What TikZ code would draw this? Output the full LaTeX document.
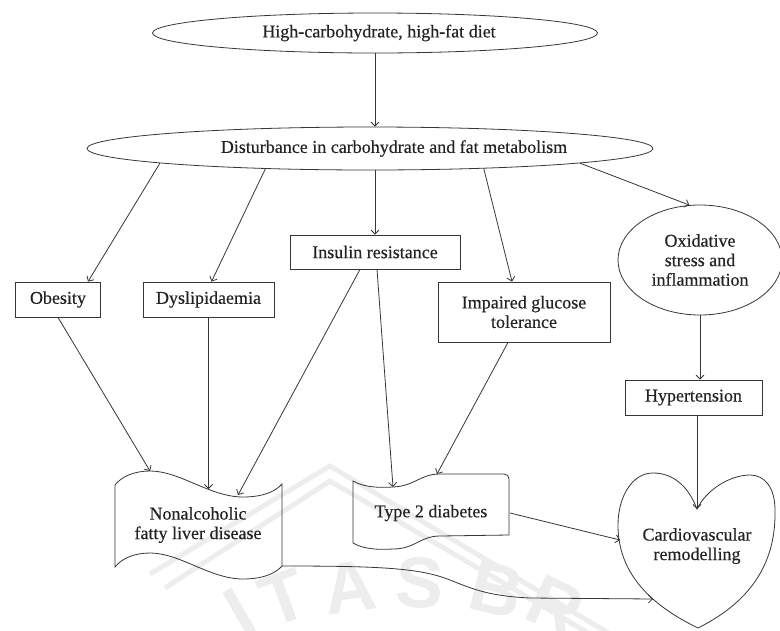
\documentclass[tikz,border=0pt]{standalone}
\usepackage{fontspec}
\setmainfont{Liberation Serif}[FakeBold=0.35]
\setsansfont{Liberation Sans}
\usetikzlibrary{shapes.geometric,arrows.meta}
\definecolor{inkline}{HTML}{363636}
\definecolor{inktext}{HTML}{222222}
\definecolor{wmark}{HTML}{EDEDED}
\begin{document}
\begin{tikzpicture}[x=1pt,y=-1pt,
  every node/.style={font=\fontsize{18}{19.5}\selectfont, text=inktext},
  ln/.style={draw=inkline, line width=0.8pt},
  box/.style={ln, rectangle, minimum height=35pt, inner sep=2pt},
  ell/.style={ln, ellipse, inner sep=0pt},
  arr/.style={draw=inkline, line width=0.8pt, -{Straight Barb[length=4pt,width=8pt]}},
  wm/.style={text=wmark, font=\sffamily\bfseries\fontsize{72}{72}\selectfont, inner sep=0pt}
]
\useasboundingbox (0,0) rectangle (780,630);

% faint background emblem
\draw[wmark, line width=5pt, line join=miter] (150,574) -- (330,466) -- (610,634);
\draw[wmark, line width=5pt, line join=miter] (165,588) -- (330,481) -- (590,634);
\node[wm, rotate=30]  (wmI) at (240,612) {I};
\node[wm, rotate=20]  (wmT) at (284,598) {T};
\node[wm, rotate=8]   (wmA) at (350,587) {A};
\node[wm, rotate=-3]  (wmS) at (420,583) {S};
\node[wm, rotate=-14] (wmB) at (497,590) {B};
\node[wm, rotate=-25] (wmR) at (556,606) {R};

% top-level causes
\node[ell, minimum width=445pt, minimum height=40pt] (diet) at (375,33) {};
\node (dietText) at (379,33) {High-carbohydrate, high-fat diet};
\node[ell, minimum width=566pt, minimum height=43pt] (dist) at (370,148.5) {};
\node (distText) at (394,148.5) {Disturbance in carbohydrate and fat metabolism};

% intermediate conditions
\node[box, minimum width=85pt]  (obes) at (58,299.5) {Obesity};
\node[box, minimum width=131pt] (dys)  at (208.5,299.5) {Dyslipidaemia};
\node[box, minimum width=170pt, minimum height=34pt] (ins) at (375,252) {Insulin resistance};
\node[box, minimum width=172pt, minimum height=60pt, align=center] (igt) at (524,312) {Impaired glucose\\tolerance};
\node[ell, minimum width=164pt, minimum height=110pt, align=center] (ox) at (700,260) {Oxidative\\stress and\\inflammation};
\node[box, minimum width=137pt] (hyp) at (693.5,397.5) {Hypertension};

% nonalcoholic fatty liver disease (wavy tape)
\draw[ln] (115,485) .. controls (122,476) and (135,471) .. (150,471)
  .. controls (180,471) and (210,497) .. (243,497)
  .. controls (262,497) and (275,492) .. (282,484) -- (282,566)
  .. controls (275,574) and (262,579) .. (243,579)
  .. controls (210,579) and (180,553) .. (150,553)
  .. controls (135,553) and (122,558) .. (115,567) -- cycle;
\node[align=center] (nafld) at (198,525) {Nonalcoholic\\fatty liver disease};
\coordinate (nafldA) at (150,471);
\coordinate (nafldB) at (209,489);
\coordinate (nafldC) at (238,495);
\coordinate (nafldR) at (282,566);

% type 2 diabetes (wavy tape)
\draw[ln] (353,481) .. controls (363,487) and (378,488) .. (393,487)
  .. controls (415,486) and (420,474) .. (440,474) -- (504,474)
  .. controls (507,474) and (509,476) .. (509,479) -- (509,535) -- (440,536)
  .. controls (420,536) and (415,549) .. (393,549)
  .. controls (378,550) and (363,549) .. (353,543) -- cycle;
\node (t2d) at (431,513) {Type 2 diabetes};
\coordinate (t2dA) at (393,487);
\coordinate (t2dB) at (437,474);
\coordinate (t2dR) at (510,513);

% cardiovascular remodelling (heart)
\draw[ln] (697,509) .. controls (688,485) and (672,473) .. (653,473)
  .. controls (632,473) and (618,497) .. (618,525)
  .. controls (618,565) and (640,600) .. (698,628)
  .. controls (754,600) and (776,560) .. (775,510)
  .. controls (775,488) and (765,475) .. (750,475)
  .. controls (730,475) and (706,490) .. (697,509) -- cycle;
\node[align=center] (cvr) at (697,546) {Cardiovascular\\remodelling};
\coordinate (heartDip) at (697,509);
\coordinate (heartL) at (620,540);
\coordinate (heartLL) at (653,599);

% connectors
\draw[arr] (diet.south) -- (diet.south |- dist.north);
\draw[arr] (dist.184) -- ([xshift=30pt]obes.north);
\draw[arr] (dist.191) -- ([xshift=3pt]dys.north);
\draw[arr] (ins.north |- dist.south) -- (ins.north);
\draw[arr] (dist.350) -- ([xshift=-12pt]igt.north);
\draw[arr] (dist.356) -- (ox.101);
\draw[arr] (obes.south) -- (nafldA);
\draw[arr] (dys.south) -- (dys.south |- nafldB);
\draw[arr] ([xshift=-15pt]ins.south) -- (nafldC);
\draw[arr] ([xshift=2pt]ins.south) -- (t2dA);
\draw[arr] ([xshift=-16pt]igt.south) -- (t2dB);
\draw[arr] (ox.south) -- (ox.south |- hyp.north);
\draw[arr] (hyp.south -| heartDip) -- (heartDip);
\draw[arr] (t2dR) -- (heartL);
\draw[arr] (nafldR) .. controls (380,566) and (420,568) .. (450,580)
  .. controls (475,590) and (490,596) .. (530,598) -- (heartLL);
\end{tikzpicture}
\end{document}
